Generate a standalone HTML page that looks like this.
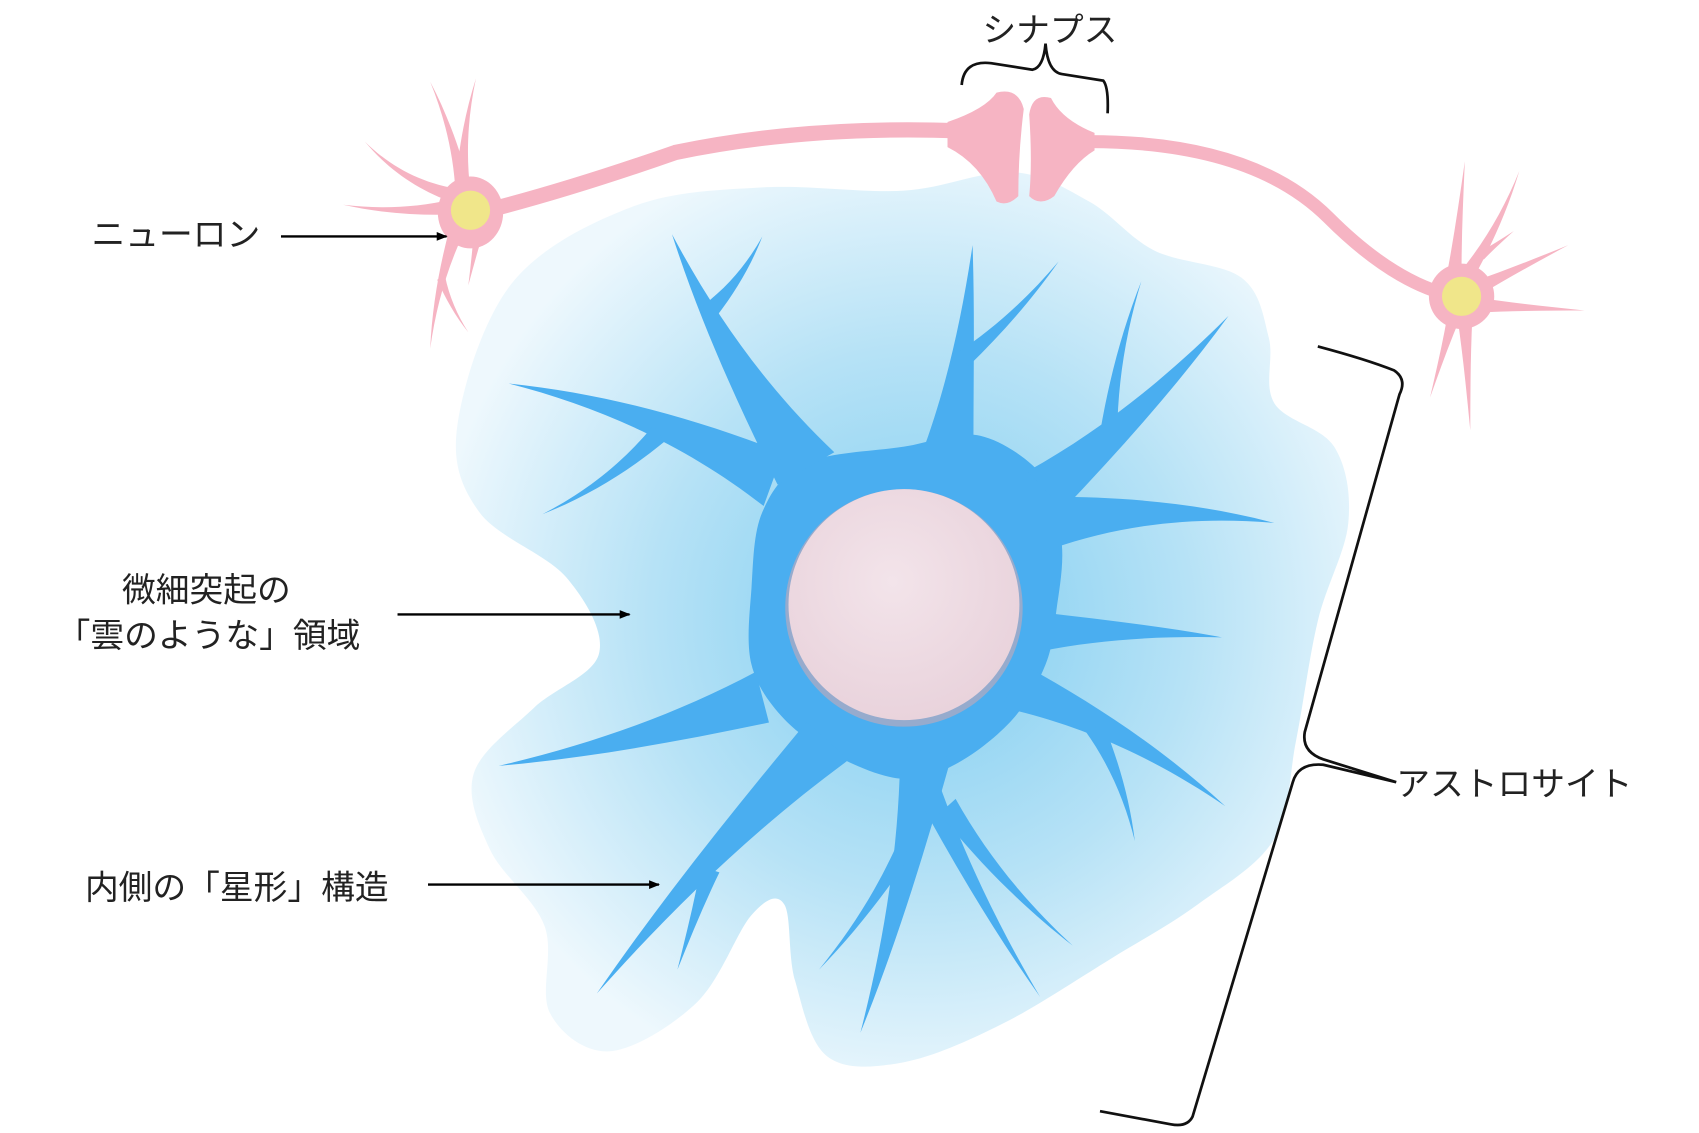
<!DOCTYPE html>
<html><head><meta charset="utf-8"><style>
html,body{margin:0;padding:0;background:#fff;}
svg{display:block}
text{font-family:"Liberation Sans","Noto Sans CJK JP",sans-serif;font-size:31px;fill:#222}
</style></head><body>
<svg id="s" width="1699" height="1133" viewBox="0 0 1560 1040" preserveAspectRatio="none" xmlns="http://www.w3.org/2000/svg">
<defs>
<radialGradient id="cg" cx="0.52" cy="0.5" r="0.55">
<stop offset="0" stop-color="#7fcdf0"/><stop offset="0.55" stop-color="#b6e2f6"/><stop offset="1" stop-color="#eef8fd"/>
</radialGradient>
<radialGradient id="ng" cx="0.45" cy="0.4" r="0.6"><stop offset="0" stop-color="#f3e4ea"/><stop offset="1" stop-color="#e9d3dc"/></radialGradient>
<marker id="ar" markerWidth="10" markerHeight="10" refX="9" refY="5" orient="auto" markerUnits="userSpaceOnUse"><path d="M0,1 L10,5 L0,9z" fill="#000"/></marker>
</defs>
<path id="cloud" fill="url(#cg)"/>
<g id="astro" fill="#4aaef0"></g>
<circle cx="830" cy="558" r="109" fill="#c9a9b5" opacity="0.6"/>
<circle cx="830" cy="555" r="106" fill="url(#ng)"/>
<g id="neuron" fill="#f6b4c3"></g>
<circle cx="432" cy="193" r="18" fill="#f0e68a"/>
<circle cx="1342" cy="272" r="18" fill="#f0e68a"/>
<path d="M883,78 Q885,55 910,58 L948,64 Q958,62 960,40 Q962,66 975,68 L1013,74 Q1018,80 1017,104" fill="none" stroke="#111" stroke-width="2.5"/>
<path d="M1210,318 Q1255,330 1280,340 Q1292,348 1285,362 L1198,672 Q1195,690 1215,697 L1282,718 L1215,702 Q1192,700 1187,718 L1095,1025 Q1090,1035 1075,1032 L1010,1020" fill="none" stroke="#111" stroke-width="2.5"/>
<line x1="258" y1="217" x2="410" y2="217" stroke="#000" stroke-width="2.2" marker-end="url(#ar)"/>
<line x1="365" y1="564" x2="578" y2="564" stroke="#000" stroke-width="2.2" marker-end="url(#ar)"/>
<line x1="393" y1="812" x2="605" y2="812" stroke="#000" stroke-width="2.2" marker-end="url(#ar)"/>
<text x="902" y="38">シナプス</text>
<text x="84" y="226">ニューロン</text>
<text x="112" y="552">微細突起の</text>
<text x="52" y="594">「雲のような」領域</text>
<text x="78" y="825">内側の「星形」構造</text>
<text x="1282" y="730">アストロサイト</text>
</svg>
<script>
function smooth(pts){var n=pts.length,d="";for(var i=0;i<n;i++){var p0=pts[(i-1+n)%n],p1=pts[i],p2=pts[(i+1)%n],p3=pts[(i+2)%n];if(i==0)d+="M"+p1[0]+","+p1[1];var c1=[p1[0]+(p2[0]-p0[0])/6,p1[1]+(p2[1]-p0[1])/6],c2=[p2[0]-(p3[0]-p1[0])/6,p2[1]-(p3[1]-p1[1])/6];d+="C"+c1+" "+c2+" "+p2;}return d+"Z";}
document.getElementById("cloud").setAttribute("d",smooth([[470,260],[580,190],[700,172],[830,175],[930,158],[1000,185],[1060,230],[1140,255],[1165,310],[1170,370],[1225,410],[1238,480],[1210,570],[1190,680],[1170,770],[1100,830],[1020,880],[920,940],[830,975],[760,970],[730,900],[720,830],[690,840],[640,920],[560,965],[505,930],[500,850],[450,780],[435,710],[490,650],[550,600],[520,530],[440,470],[420,390]]));
var NS="http://www.w3.org/2000/svg";
function proc(g,x0,y0,x1,y1,w,bend){var dx=x1-x0,dy=y1-y0,L=Math.hypot(dx,dy),nx=-dy/L,ny=dx/L;
var ax=x0+dx/3+nx*bend,ay=y0+dy/3+ny*bend,bx=x0+2*dx/3+nx*bend,by=y0+2*dy/3+ny*bend;
var d="M"+(x0+nx*w)+","+(y0+ny*w)+" C"+(ax+nx*w*0.5)+","+(ay+ny*w*0.5)+" "+(bx+nx*w*0.25)+","+(by+ny*w*0.25)+" "+x1+","+y1+" C"+(bx-nx*w*0.25)+","+(by-ny*w*0.25)+" "+(ax-nx*w*0.5)+","+(ay-ny*w*0.5)+" "+(x0-nx*w)+","+(y0-ny*w)+"Z";
var p=document.createElementNS(NS,"path");p.setAttribute("d",d);g.appendChild(p);}
var a=document.getElementById("astro");
var body=document.createElementNS(NS,"path");
body.setAttribute("d",smooth([[830,410],[900,400],[960,440],[975,500],[970,560],[960,610],[930,660],[880,700],[830,715],[770,695],[720,660],[690,610],[690,540],[700,470],[740,425]]));a.appendChild(body);
var P=[[740,430,617,215,30,-10],[652,285,700,217,8,5],[710,440,467,352,26,15],[605,398,498,472,9,-8],[870,420,893,225,24,4],[884,330,972,240,8,5],[960,450,1128,290,24,8],[1018,398,1048,258,8,-6],[965,480,1170,480,24,-12],[955,580,1122,585,18,-4],[930,630,1125,740,22,-12],[1005,668,1042,772,9,-6],[850,690,790,948,24,-8],[850,720,955,915,12,6],[870,740,985,868,10,8],[830,780,752,890,8,-5],[760,680,548,912,26,8],[652,798,622,890,9,0],[700,640,458,703,24,-8]];
P.forEach(function(q){proc(a,q[0],q[1],q[2],q[3],q[4],q[5]);});
var n=document.getElementById("neuron");
function tube(d,w){var p=document.createElementNS(NS,"path");p.setAttribute("d",d);p.setAttribute("fill","none");p.setAttribute("stroke","#f6b4c3");p.setAttribute("stroke-width",w);p.setAttribute("stroke-linecap","round");n.appendChild(p);}
tube("M440,195 Q520,175 620,140 Q740,115 880,120",14);
tube("M1000,130 Q1150,130 1220,200 Q1280,260 1335,272",12);
var s1=document.createElementNS(NS,"path");s1.setAttribute("d","M870,112 Q905,100 915,85 Q935,80 940,100 Q935,140 935,180 Q925,190 915,185 Q900,150 870,135Z");n.appendChild(s1);
var s2=document.createElementNS(NS,"path");s2.setAttribute("d","M1005,122 Q975,110 965,90 Q948,85 945,105 Q948,150 945,180 Q955,190 968,180 Q985,150 1005,138Z");n.appendChild(s2);
var c1=document.createElementNS(NS,"ellipse");c1.setAttribute("cx",432);c1.setAttribute("cy",195);c1.setAttribute("rx",30);c1.setAttribute("ry",33);n.appendChild(c1);
var c2=document.createElementNS(NS,"ellipse");c2.setAttribute("cx",1342);c2.setAttribute("cy",272);c2.setAttribute("rx",30);c2.setAttribute("ry",30);n.appendChild(c2);
[[425,175,395,75,7,5],[425,175,437,72,7,-5],[420,180,335,130,7,-10],[415,190,315,188,7,-5],[420,210,395,320,7,5],[405,255,430,305,4,3],[440,210,430,262,5,0],
[1335,255,1345,148,7,0],[1345,255,1395,157,7,5],[1355,265,1440,225,7,0],[1355,280,1455,285,7,0],[1345,290,1350,395,7,0],[1335,290,1313,365,6,0],[1360,235,1390,212,4,0]].forEach(function(q){proc(n,q[0],q[1],q[2],q[3],q[4],q[5]);});
</script>
</body></html>
